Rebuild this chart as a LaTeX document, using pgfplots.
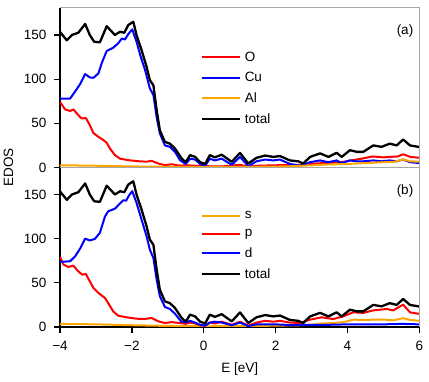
\documentclass[border=0pt]{standalone}
\usepackage{fontspec}
\setmainfont{Liberation Sans}
\usepackage{pgfplots}
\usepackage{pgfplotstable}
\pgfplotsset{compat=1.18}

\definecolor{cO}{RGB}{255,0,0}
\definecolor{cCu}{RGB}{0,0,255}
\definecolor{cAl}{RGB}{255,165,0}
\newcommand{\lblfont}{\fontsize{13.5}{16}\selectfont}

% total DOS, same in both panels
\pgfplotstableread{
x y
-4.00 153.5
-3.81 144
-3.67 150
-3.49 152.6
-3.30 162.5
-3.17 150
-3.05 142.4
-2.89 141.7
-2.70 160
-2.47 150
-2.33 153.7
-2.21 152.6
-2.10 161.3
-1.96 165
-1.87 150
-1.73 133
-1.59 114
-1.50 99
-1.40 93
-1.31 65
-1.22 42
-1.08 29
-0.94 27
-0.80 21.5
-0.61 10
-0.50 6
-0.38 14
-0.24 12
-0.10 6
0.04 4
0.17 14
0.31 11.5
0.50 14.5
0.78 6.4
1.01 16.5
1.24 4.5
1.47 11
1.71 13.5
1.94 12
2.12 13
2.40 8
2.63 7
2.77 4.5
2.96 12
3.24 16
3.47 12
3.70 16.6
3.84 12
4.07 19.6
4.26 17.7
4.44 17.7
4.72 25
4.95 23.4
5.18 27
5.37 25
5.55 31.7
5.74 25
5.97 23.4
6.00 23
}\total

\pgfplotsset{
  edos/.style={
    width=359.3pt, height=159.5pt, scale only axis,
    xmin=-4, xmax=6, ymin=0, ymax=180.6,
    axis x line*=bottom, axis y line*=left,
    axis line style={-, black, line width=1.8pt},
    ytick={0,50,100,150},
    tick align=outside, major tick length=6pt,
    tick style={black, line width=1.3pt},
    tick label style={font=\lblfont},
    yticklabel style={xshift=-4pt},
    xticklabel style={yshift=-5pt},
    label style={font=\lblfont},
    /pgf/number format/assume math mode=true,
    legend cell align=left,
    legend style={draw=none, fill=none, font=\lblfont,
      at={(rel axis cs:0.382,0.752)}, anchor=north west, row sep=5.5pt,
      nodes={inner xsep=4pt}},
    legend image code/.code={
      \path (0pt,0pt) -- (38pt,0pt);
      \draw[#1, line width=2pt] (0pt,0pt) -- (31pt,0pt);},
    every axis plot/.append style={line width=2pt, line join=round},
    after end axis/.code={
      \draw[gray!70, line width=1pt] (rel axis cs:0,1) -- (rel axis cs:1,1) -- (rel axis cs:1,0);
    },
  }
}

\begin{document}
\begin{tikzpicture}

\begin{axis}[edos, name=top, xtick=\empty]
\addplot[cO] coordinates {
(-4,74.4) (-3.86,65.8) (-3.72,64) (-3.63,65.8) (-3.49,59.3) (-3.40,55.5) (-3.28,56)
(-3.17,48) (-3.07,39) (-2.93,34.7) (-2.79,31) (-2.70,28) (-2.61,21.5) (-2.47,14)
(-2.33,10) (-2.10,8.3) (-1.82,7.1) (-1.59,6.6) (-1.45,7.5) (-1.26,4.5) (-1.08,2.6)
(-0.89,3.7) (-0.66,2) (-0.5,2.5) (0,1.5) (0.5,1.2) (1.01,3) (1.24,1) (1.5,2) (2,2.5)
(2.5,3) (2.8,3) (3,4) (3.3,5) (3.6,5.5) (3.9,6.5) (4.1,8) (4.4,10) (4.7,12.5) (5.0,11.5)
(5.2,12) (5.4,12.5) (5.55,15) (5.75,12) (6,11)
};
\addplot[cCu] coordinates {
(-4,78) (-3.72,78) (-3.58,86) (-3.44,94.4) (-3.30,105.8) (-3.17,102) (-3.07,101.5)
(-2.93,106.6) (-2.84,118) (-2.70,132) (-2.52,135.6) (-2.38,140.6) (-2.28,146) (-2.19,145)
(-2.10,151) (-1.99,156.4) (-1.87,142.4) (-1.75,125) (-1.63,110) (-1.50,89.6) (-1.40,82)
(-1.31,57) (-1.22,38.5) (-1.08,25) (-0.94,23.4) (-0.80,17.7) (-0.66,8.3) (-0.5,4)
(-0.38,10) (-0.24,9) (-0.10,4) (0.04,2) (0.17,10) (0.31,8) (0.50,10) (0.78,3) (1.01,12)
(1.24,1.5) (1.47,7) (1.71,9) (1.94,8) (2.12,9) (2.40,4) (2.68,2) (2.96,6) (3.24,8)
(3.47,6) (3.70,8) (3.84,5) (4.07,8) (4.26,7) (4.44,7) (4.72,8) (4.95,7) (5.18,8)
(5.37,7) (5.55,9) (5.74,6) (6,5)
};
\addplot[cAl] coordinates {
(-4,2.5) (-3,2) (-2,1.2) (-1,0.8) (0,0.5) (1,0.6) (2,1) (2.5,1.5) (3,2.5) (3.5,3.5)
(4,4) (4.5,5) (5,6) (5.3,6.5) (5.55,9) (5.75,7) (6,6.5)
};
\addplot[black, line width=2.3pt] table[x=x, y=y] {\total};
\legend{O, Cu, Al, total}
\node[anchor=east, font=\lblfont] at (rel axis cs:0.993,0.855) {(a)};
\end{axis}

\begin{axis}[edos, name=bottom, at={(top.south west)}, anchor=north west,
  xtick={-4,-2,0,2,4,6}, xticklabels={−4,−2,0,2,4,6}, xlabel={E [eV]},
  xlabel style={yshift=-5pt}]
\addplot[cAl] coordinates {
(-4,3.5) (-3,3) (-2,2) (-1,1.2) (0,0.8) (1,1) (2,1.5) (2.7,2) (3,2.6) (3.3,4) (3.6,4.5)
(3.9,5.5) (4.16,8.3) (4.44,8) (4.72,8.3) (5.0,8.5) (5.27,7.5) (5.55,10) (5.75,8) (6,7)
};
\addplot[cO] coordinates {
(-4,79.4) (-3.9,70.6) (-3.77,68) (-3.63,69.5) (-3.49,63) (-3.38,59.3) (-3.28,60)
(-3.17,51.7) (-3.07,44.2) (-2.93,38.5) (-2.75,32.9) (-2.66,27.2) (-2.52,17.7)
(-2.38,12.8) (-2.14,10.9) (-1.87,9.4) (-1.66,9) (-1.45,10.2) (-1.26,6.4) (-1.08,4.5)
(-0.89,5.5) (-0.66,4.5) (-0.5,3.5) (-0.38,5) (-0.24,4) (-0.10,2) (0.04,1.5) (0.17,5)
(0.31,4) (0.50,6) (0.78,2.5) (1.01,6) (1.24,1.5) (1.47,5) (1.71,7) (1.94,6) (2.12,7)
(2.40,5) (2.68,4.5) (2.96,8.3) (3.28,11) (3.6,9) (3.88,12) (4.16,16.6) (4.44,16)
(4.72,18.8) (5.09,20.4) (5.27,18.8) (5.55,25.3) (5.74,16.6) (5.97,15) (6,15)
};
\addplot[cCu] coordinates {
(-4,73.7) (-3.72,74.4) (-3.58,80) (-3.44,88.8) (-3.30,100) (-3.17,98) (-3.03,99.7)
(-2.89,106.6) (-2.75,125) (-2.66,131) (-2.47,134) (-2.33,139.8) (-2.24,143.5) (-2.16,143)
(-2.08,148.9) (-1.99,153.8) (-1.87,140.6) (-1.73,121.6) (-1.59,102.7) (-1.50,87.6)
(-1.40,78) (-1.31,53.6) (-1.22,34.7) (-1.08,22.7) (-0.94,20.4) (-0.80,15) (-0.63,6.4)
(-0.5,5) (-0.38,7) (-0.24,5) (-0.10,2.5) (0.04,1.5) (0.17,5) (0.31,6) (0.50,5) (0.78,2)
(1.01,5) (1.24,1) (1.47,3) (2,3) (2.5,2) (3,2.5) (3.5,2.5) (4,3) (4.5,3) (5,3) (5.5,3.5)
(6,3)
};
\addplot[black, line width=2.3pt] table[x=x, y=y] {\total};
\legend{s, p, d, total}
\node[anchor=east, font=\lblfont] at (rel axis cs:0.993,0.855) {(b)};
\end{axis}

\node[rotate=90, font=\lblfont] at ([xshift=-51.5pt]top.south west) {EDOS};
\path ([shift={(-60pt,8pt)}]top.north west) rectangle ([shift={(9.7pt,-54.7pt)}]bottom.south east);
\end{tikzpicture}
\end{document}
